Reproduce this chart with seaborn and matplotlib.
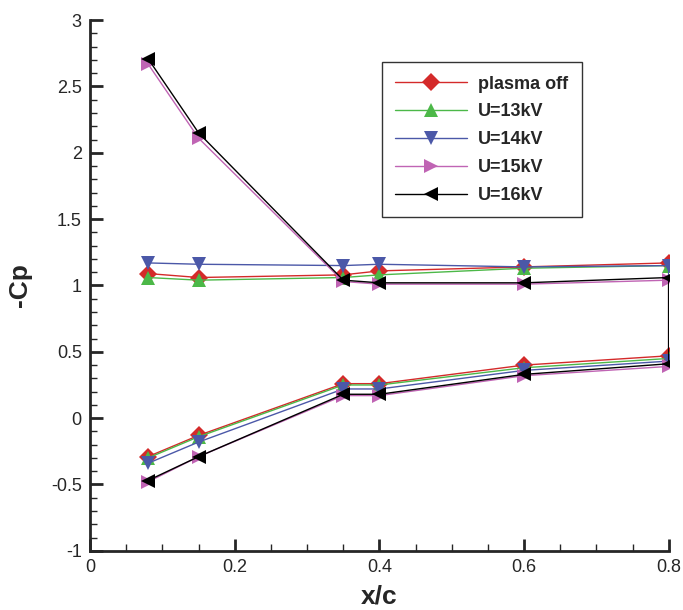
import numpy as np
import pandas as pd
import matplotlib
matplotlib.use("Agg")
import matplotlib.pyplot as plt
import seaborn as sns
from matplotlib.ticker import MultipleLocator

# chordwise stations: upper surface (LE -> TE) then lower surface (TE -> LE)
x_c = [0.08, 0.15, 0.35, 0.4, 0.6, 0.8, 0.8, 0.6, 0.4, 0.35, 0.15, 0.08]

cp_off = [1.09, 1.06, 1.08, 1.11, 1.14, 1.17, 0.47, 0.40, 0.26, 0.26, -0.13, -0.29]
cp_13kv = [1.06, 1.04, 1.06, 1.08, 1.13, 1.15, 0.45, 0.38, 0.25, 0.25, -0.14, -0.30]
cp_14kv = [1.17, 1.16, 1.15, 1.16, 1.14, 1.15, 0.43, 0.36, 0.22, 0.22, -0.18, -0.34]
cp_15kv = [2.67, 2.11, 1.03, 1.01, 1.01, 1.04, 0.39, 0.32, 0.17, 0.17, -0.29, -0.48]
cp_16kv = [2.71, 2.15, 1.04, 1.02, 1.02, 1.06, 0.41, 0.33, 0.18, 0.18, -0.29, -0.47]

labels = ["plasma off", "U=13kV", "U=14kV", "U=15kV", "U=16kV"]
series = [cp_off, cp_13kv, cp_14kv, cp_15kv, cp_16kv]

x_ticks = [0, 0.2, 0.4, 0.6, 0.8]
x_ticklabels = ["0", "0.2", "0.4", "0.6", "0.8"]
y_ticks = [-1, -0.5, 0, 0.5, 1, 1.5, 2, 2.5, 3]
y_ticklabels = ["-1", "-0.5", "0", "0.5", "1", "1.5", "2", "2.5", "3"]

colors = ["#D42A2A", "#4CB848", "#4B58A8", "#C064B4", "#000000"]
markers = ["D", "^", "v", ">", "<"]

rows = []
for lab, vals in zip(labels, series):
    for i, (xv, yv) in enumerate(zip(x_c, vals)):
        rows.append({"x/c": xv, "-Cp": yv, "case": lab, "order": i})
df = pd.DataFrame(rows)

sns.set_theme(style="ticks")
plt.rcParams['font.family'] = ['Liberation Sans', 'DejaVu Sans']

fig = plt.figure(figsize=(6.83, 6.10), dpi=100)
ax = fig.add_axes([0.132, 0.097, 0.847, 0.870])

sns.lineplot(
    data=df, x="x/c", y="-Cp", hue="case", style="case",
    hue_order=labels, style_order=labels,
    palette=dict(zip(labels, colors)),
    markers=dict(zip(labels, markers)), dashes=False,
    sort=False, estimator=None, units="case",
    markersize=9.5, markeredgewidth=0, linewidth=1.0, ax=ax,
)

ax.set_xlim(0, 0.8)
ax.set_ylim(-1, 3)
ax.set_xticks(x_ticks)
ax.set_xticklabels(x_ticklabels)
ax.set_yticks(y_ticks)
ax.set_yticklabels(y_ticklabels)
ax.xaxis.set_minor_locator(MultipleLocator(0.05))
ax.yaxis.set_minor_locator(MultipleLocator(0.1))

ax.tick_params(which="major", direction="in", length=9, width=2, labelsize=13, pad=6)
ax.tick_params(which="minor", direction="in", length=5, width=1)
for s in ["top", "right"]:
    ax.spines[s].set_visible(False)
for s in ["left", "bottom"]:
    ax.spines[s].set_linewidth(2)

ax.set_xlabel("x/c", fontsize=19, fontweight="bold", labelpad=6)
ax.set_ylabel("-Cp", fontsize=19, fontweight="bold", labelpad=14)

handles, lbls = ax.get_legend_handles_labels()
leg = ax.legend(handles, lbls, loc="upper left", bbox_to_anchor=(0.504, 0.921),
                borderaxespad=0, frameon=True, fancybox=False, edgecolor="black",
                fontsize=13, handlelength=4.0, borderpad=0.75, labelspacing=0.6,
                handletextpad=0.6)
leg.get_frame().set_linewidth(1.0)
for t in leg.get_texts():
    t.set_fontweight("bold")

plt.savefig("out.png", dpi=100, facecolor="white")
plt.close()
